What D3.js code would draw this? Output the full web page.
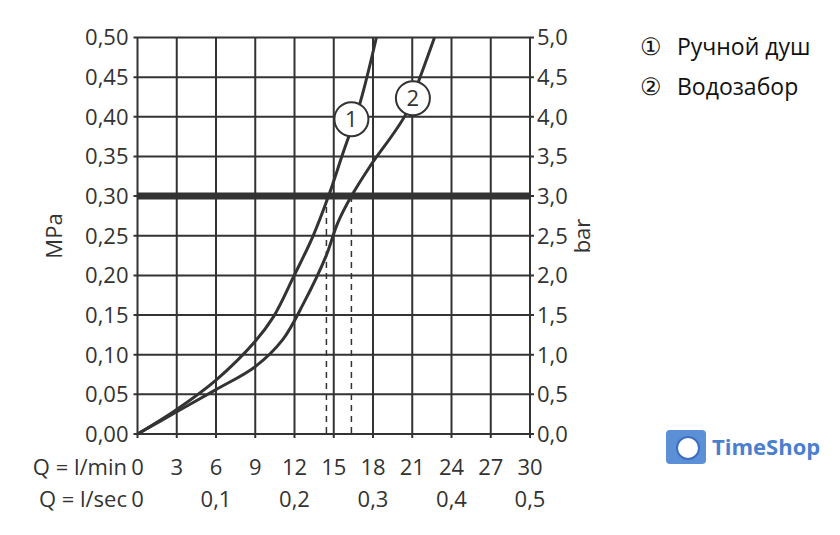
<!DOCTYPE html>
<html><head><meta charset="utf-8">
<script src="https://d3js.org/d3.v7.min.js"></script>
<style>body{margin:0;background:#fff}text{font-family:"Open Sans",sans-serif;fill:#333}</style>
</head><body>
<script>
var w = 840, h = 535;
// data
var lminTicks = [0,3,6,9,12,15,18,21,24,27,30];
var lsecTicks = [0,0.1,0.2,0.3,0.4,0.5];
var mpaTicks = [0,0.05,0.1,0.15,0.2,0.25,0.3,0.35,0.4,0.45,0.5];
var curve1 = [[0,0],[3,0.031],[6,0.068],[9,0.117],[10.4,0.148],[11.95,0.199],[13.4,0.249],[14.6,0.30],[15.7,0.354],[17,0.417],[18.26,0.50]];
var curve2 = [[0,0],[3,0.028],[6,0.056],[9,0.085],[11.1,0.119],[12.7,0.165],[14.4,0.224],[15.3,0.266],[16.35,0.30],[17.75,0.337],[20.5,0.403],[21.6,0.45],[22.7,0.50]];
var markers = [{n:"1",x:16.35,y:0.397},{n:"2",x:21.05,y:0.4235}];
var dashes = [14.44,16.35];
var legendNum = ["①","②"];
var legend = ["Ручной душ","Водозабор"];

var svg = d3.select("body").append("svg").attr("width",w).attr("height",h);
var x = d3.scaleLinear().domain([0,30]).range([137.5,530]);
var y = d3.scaleLinear().domain([0,0.5]).range([434,37.5]);
var col = "#333";

// grid
svg.selectAll(".gx").data(lminTicks).enter().append("line")
  .attr("x1",d=>x(d)).attr("x2",d=>x(d)).attr("y1",y(0.5)).attr("y2",y(0)+4)
  .attr("stroke",col).attr("stroke-width",2);
svg.selectAll(".gy").data(mpaTicks).enter().append("line")
  .attr("x1",x(0)-4).attr("x2",x(30)+4).attr("y1",d=>y(d)).attr("y2",d=>y(d))
  .attr("stroke",col).attr("stroke-width",2);
// thick 0.3 line
svg.append("line").attr("x1",x(0)).attr("x2",x(30)).attr("y1",y(0.3)).attr("y2",y(0.3))
  .attr("stroke",col).attr("stroke-width",7);
// dashes
svg.selectAll(".dash").data(dashes).enter().append("line")
  .attr("x1",d=>x(d)).attr("x2",d=>x(d)).attr("y1",y(0.3)).attr("y2",y(0))
  .attr("stroke",col).attr("stroke-width",1.5).attr("stroke-dasharray","6,5");

var line = d3.line().x(d=>x(d[0])).y(d=>y(d[1])).curve(d3.curveCatmullRom);
[curve1,curve2].forEach(function(c){
  svg.append("path").attr("d",line(c)).attr("fill","none").attr("stroke",col).attr("stroke-width",3);
});
var mk = svg.selectAll(".mk").data(markers).enter().append("g")
  .attr("transform",d=>"translate("+x(d.x)+","+y(d.y)+")");
mk.append("circle").attr("r",17).attr("fill","#fff").attr("stroke",col).attr("stroke-width",2);
mk.append("text").attr("text-anchor","middle").attr("dy","0.36em").attr("font-size",22).text(d=>d.n);

var fmt = d3.format(".2f"), fmt1 = d3.format(".1f");
svg.selectAll(".ly").data(mpaTicks).enter().append("text")
  .attr("x",x(0)-9).attr("y",d=>y(d)).attr("dy","0.36em").attr("text-anchor","end")
  .attr("font-size",22).text(d=>fmt(d).replace(".",","));
svg.selectAll(".ry").data(mpaTicks).enter().append("text")
  .attr("x",x(30)+7).attr("y",d=>y(d)).attr("dy","0.36em")
  .attr("font-size",22).text(d=>fmt1(d*10).replace(".",","));
svg.selectAll(".bx").data(lminTicks).enter().append("text")
  .attr("x",d=>x(d)).attr("y",475).attr("text-anchor","middle")
  .attr("font-size",22).text(d=>d);
svg.selectAll(".bs").data(lsecTicks).enter().append("text")
  .attr("x",d=>x(d*60)).attr("y",507).attr("text-anchor","middle")
  .attr("font-size",22).text(d=>String(d).replace(".",","));
svg.append("text").attr("x",127).attr("y",475).attr("text-anchor","end").attr("font-size",22).text("Q = l/min");
svg.append("text").attr("x",127).attr("y",507).attr("text-anchor","end").attr("font-size",22).text("Q = l/sec");
svg.append("text").attr("transform","translate(62,236) rotate(-90)").attr("text-anchor","middle").attr("font-size",22).text("MPa");
svg.append("text").attr("transform","translate(605,236) rotate(90)").attr("text-anchor","middle").attr("font-size",22).text("bar")
  .attr("transform","translate(590,236) rotate(-90)");

svg.selectAll(".ln").data(legendNum).enter().append("text")
  .attr("x",640).attr("y",(d,i)=>55+i*40).attr("font-size",24).style("fill","#111").text(d=>d);
svg.selectAll(".lg").data(legend).enter().append("text")
  .attr("x",677).attr("y",(d,i)=>55+i*40).attr("font-size",23).style("fill","#111").text(d=>d);

// watermark
var lg = svg.append("g").attr("transform","translate(666,422)");
lg.append("rect").attr("x",0).attr("y",8).attr("width",40).attr("height",34).attr("rx",4).attr("fill","#5b8fd6");
lg.append("circle").attr("cx",22).attr("cy",26).attr("r",11).attr("fill","#fff").attr("stroke","#3c6fc0").attr("stroke-width",2);
lg.append("text").attr("x",46).attr("y",33).attr("font-size",22).attr("font-weight","bold").style("fill","#4a7fd0").text("TimeShop");
</script>
</body></html>
